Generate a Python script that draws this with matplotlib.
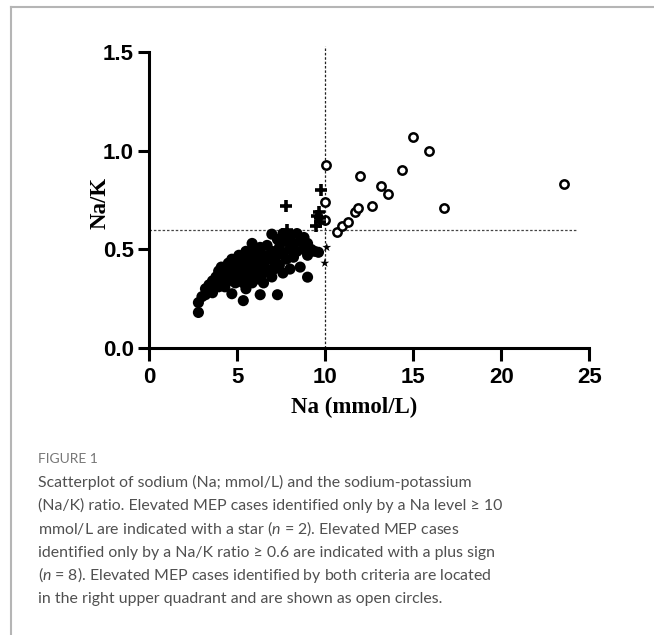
import matplotlib
matplotlib.use('Agg')
import matplotlib.pyplot as plt
from matplotlib.lines import Line2D

# 字体
plt.rcParams['mathtext.fontset'] = 'custom'
plt.rcParams['mathtext.rm'] = 'Lato'
plt.rcParams['mathtext.it'] = 'Lato:italic'

# 数据: Na < 10 且 Na/K < 0.6 (实心点)
na_filled = [2.8, 2.8, 3.0, 3.2, 3.2, 3.4, 3.4, 3.6, 3.6, 3.6,
             3.8, 3.8, 3.95, 3.95, 3.95, 4.1, 4.1, 4.1, 4.3, 4.3,
             4.3, 4.5, 4.5, 4.5, 4.7, 4.7, 4.7, 4.7, 4.9, 4.9,
             4.9, 5.1, 5.1, 5.1, 5.35, 5.35, 5.35, 5.35, 5.5, 5.5,
             5.5, 5.7, 5.7, 5.7, 5.85, 5.85, 5.85, 6.0, 6.0, 6.2,
             6.2, 6.2, 6.31, 6.31, 6.5, 6.5, 6.5, 6.5, 6.7, 6.7,
             6.7, 6.97, 6.97, 6.97, 7.1, 7.1, 7.29, 7.29, 7.29, 7.4,
             7.4, 7.6, 7.6, 7.6, 7.8, 7.8, 8.0, 8.0, 8.0, 8.2,
             8.2, 8.4, 8.4, 8.58, 8.58, 8.8, 8.8, 9.0, 9.0, 9.0,
             9.2, 9.4, 9.62]
nak_filled = [0.18, 0.23, 0.26, 0.27, 0.30, 0.29, 0.32, 0.31, 0.34, 0.28,
              0.33, 0.36, 0.39, 0.31, 0.35, 0.37, 0.33, 0.41, 0.36, 0.40,
              0.31, 0.43, 0.38, 0.34, 0.275, 0.41, 0.36, 0.45, 0.45, 0.39,
              0.33, 0.42, 0.36, 0.47, 0.24, 0.44, 0.38, 0.33, 0.49, 0.41,
              0.30, 0.46, 0.36, 0.40, 0.53, 0.43, 0.33, 0.49, 0.38, 0.45,
              0.41, 0.35, 0.27, 0.51, 0.47, 0.43, 0.38, 0.33, 0.52, 0.40,
              0.45, 0.577, 0.49, 0.36, 0.44, 0.40, 0.27, 0.55, 0.47, 0.51,
              0.42, 0.58, 0.48, 0.38, 0.54, 0.45, 0.57, 0.40, 0.50, 0.53,
              0.46, 0.58, 0.49, 0.41, 0.54, 0.56, 0.50, 0.359, 0.53, 0.47,
              0.50, 0.49, 0.485]

# 两个标准都满足 (空心圆)
na_both = [10.07, 9.98, 9.98, 10.68, 10.98, 11.3, 11.68, 11.89, 11.98,
           12.68, 13.17, 13.57, 14.38, 14.98, 15.87, 16.76, 23.58]
nak_both = [0.93, 0.74, 0.65, 0.59, 0.62, 0.64, 0.69, 0.71, 0.87,
            0.72, 0.82, 0.78, 0.90, 1.07, 1.00, 0.71, 0.83]

# 只有 Na/K >= 0.6 (加号)
na_plus = [9.75, 7.75, 7.86, 9.66, 9.56, 9.69, 9.5, 9.73]
nak_plus = [0.80, 0.72, 0.60, 0.69, 0.67, 0.66, 0.62, 0.64]

# 只有 Na >= 10 (星号)
na_star = [10.09, 9.98]
nak_star = [0.51, 0.43]

# 图注文字, 每行一条
caption_lines = [
    'Scatterplot of sodium (Na; mmol/L) and the sodium-potassium',
    '(Na/K) ratio. Elevated MEP cases identified only by a Na level \u2265 10',
    'mmol/L are indicated with a star ($n$ = 2). Elevated MEP cases',
    'identified only by a Na/K ratio \u2265 0.6 are indicated with a plus sign',
    '($n$ = 8). Elevated MEP cases identified by both criteria are located',
    'in the right upper quadrant and are shown as open circles.',
]

fig = plt.figure(figsize=(6.54, 6.35), dpi=100)
ax = fig.add_axes([0.228, 0.452, 0.673, 0.466])

# 参考线
ax.plot([0, 24.3], [0.6, 0.6], color='#444444', lw=0.9, dashes=(2, 1.5), clip_on=False, zorder=1)
ax.plot([10, 10], [0, 1.53], color='#222222', lw=0.9, dashes=(2, 1.5), clip_on=False, zorder=1)

ax.scatter(na_filled, nak_filled, s=64, color='black', edgecolors='none', clip_on=False, zorder=3)
ax.scatter(na_both, nak_both, s=36, facecolors='white', edgecolors='black', linewidths=1.8, zorder=3)
ax.scatter(na_plus, nak_plus, s=70, marker='+', color='black', linewidths=2.6, zorder=3)
ax.scatter(na_star, nak_star, s=45, marker='*', color='black', edgecolors='none', zorder=3)

ax.set_xlim(0, 25)
ax.set_ylim(0, 1.5)
ax.set_xticks([0, 5, 10, 15, 20, 25])
ax.set_yticks([0, 0.5, 1.0, 1.5])
ax.set_yticklabels(['0.0', '0.5', '1.0', '1.5'])

for s in ['top', 'right']:
    ax.spines[s].set_visible(False)
for s in ['left', 'bottom']:
    ax.spines[s].set_linewidth(2.2)
ax.tick_params(width=2.2, length=8, pad=3)
ax.tick_params(axis='x', length=9, pad=5)
for lab in ax.get_xticklabels() + ax.get_yticklabels():
    lab.set_fontfamily('Liberation Sans')
    lab.set_fontweight('bold')
    lab.set_fontsize(16)

ax.set_xlabel('Na (mmol/L)', fontfamily='Liberation Serif', fontweight='bold', fontsize=16.5)
ax.xaxis.set_label_coords(0.466, -0.165)
ax.set_ylabel('Na/K', fontfamily='Liberation Serif', fontweight='bold', fontsize=16.5)
ax.yaxis.set_label_coords(-0.088, 0.49)

# 外框 (上边和左边)
fig.add_artist(Line2D([11/654, 1], [1 - 7/635, 1 - 7/635], color='#b5b5b5', lw=1.5))
fig.add_artist(Line2D([11/654, 11/654], [0, 1 - 7/635], color='#b5b5b5', lw=1.5))

# 图注
fig.text(38/654, 1 - 459/635, 'FIGURE 1', fontfamily='Lato', fontsize=10, color='#777777', va='center')
for i, line in enumerate(caption_lines):
    y_px = 487 + i * 23.3
    fig.text(38/654, 1 - y_px/635, line, fontfamily='Lato', fontsize=11.4, color='#505050',
             va='baseline')

plt.savefig('out.png', dpi=100)
